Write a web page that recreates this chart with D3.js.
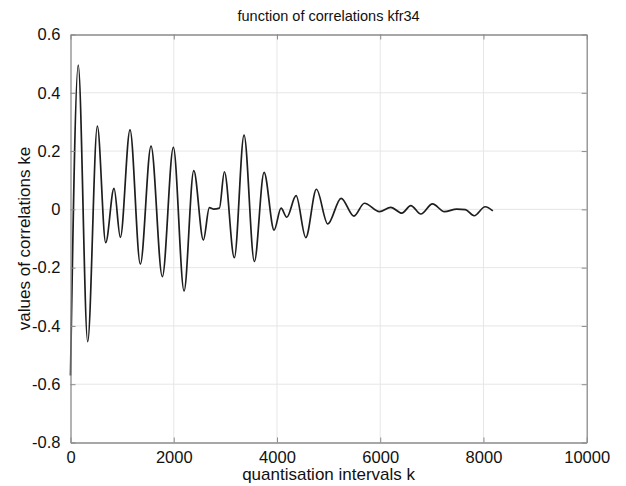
<!DOCTYPE html>
<meta charset="utf-8">
<script src="https://d3js.org/d3.v7.min.js"></script>
<style>
body { margin: 0; background: #fff; }
svg { font-family: Arial, "Liberation Sans", sans-serif; }
</style>
<div id="chart"></div>
<script>
// extrema (k, correlation)
const kValues = [0, 150, 333, 520, 682, 843, 966, 1153, 1353, 1560, 1779, 1993, 2200, 2388, 2574,
  2690, 2767, 2884, 2981, 3174, 3362, 3562, 3750, 3944, 4079, 4190, 4370, 4558, 4764, 4984,
  5242, 5490, 5694, 5985, 6205, 6419, 6593, 6787, 7012, 7244, 7484, 7650, 7820, 8033, 8182];
const keValues = [-0.57, 0.495, -0.454, 0.286, -0.114, 0.072, -0.096, 0.273, -0.188, 0.217, -0.231, 0.213, -0.280, 0.133, -0.105,
  0.006, 0.001, 0.004, 0.129, -0.166, 0.255, -0.179, 0.127, -0.071, 0.004, -0.027, 0.047, -0.097, 0.069, -0.050,
  0.038, -0.023, 0.021, -0.008, 0.007, -0.013, 0.013, -0.016, 0.019, -0.008, 0.001, -0.001, -0.022, 0.009, -0.005];
const xTicks = [0, 2000, 4000, 6000, 8000, 10000];
const yTicks = [-0.8, -0.6, -0.4, -0.2, 0, 0.2, 0.4, 0.6];

const width = 626, height = 486;
const margin = {top: 34.5, right: 39.3, bottom: 43.5, left: 70.5};
const pw = width - margin.left - margin.right,
      ph = height - margin.top - margin.bottom;

const svg = d3.select('#chart').append('svg')
  .attr('width', width).attr('height', height);

const x = d3.scaleLinear().domain([0, 10000]).range([0, pw]);
const y = d3.scaleLinear().domain([-0.8, 0.6]).range([ph, 0]);

const g = svg.append('g').attr('transform', `translate(${margin.left},${margin.top})`);

// grid
g.append('g').selectAll('line').data(xTicks.slice(1, -1)).join('line')
  .attr('x1', d => x(d)).attr('x2', d => x(d)).attr('y1', 0).attr('y2', ph)
  .attr('stroke', '#e6e6e6').attr('stroke-width', 1);
g.append('g').selectAll('line').data(yTicks.slice(1, -1)).join('line')
  .attr('y1', d => y(d)).attr('y2', d => y(d)).attr('x1', 0).attr('x2', pw)
  .attr('stroke', '#e6e6e6').attr('stroke-width', 1);

// curve
const pts = kValues.map((k, i) => [k, keValues[i]]);
g.append('path')
  .datum(pts)
  .attr('fill', 'none')
  .attr('stroke', '#1e1e1e')
  .attr('stroke-width', 1.7)
  .attr('stroke-linejoin', 'round')
  .attr('d', d3.line().x(d => x(d[0])).y(d => y(d[1])).curve(d3.curveMonotoneX));

// axes (inward ticks on all four sides, MATLAB box)
const yFmt = d => d === 0 ? '0' : d.toFixed(1);
const axisColor = '#8a8a8a';
const axB = g.append('g').attr('transform', `translate(0,${ph})`)
  .call(d3.axisBottom(x).tickValues(xTicks).tickSizeInner(-5).tickSizeOuter(0).tickPadding(9).tickFormat(d => String(d)));
const axT = g.append('g')
  .call(d3.axisTop(x).tickValues(xTicks).tickSizeInner(-5).tickSizeOuter(0).tickFormat(''));
const axL = g.append('g')
  .call(d3.axisLeft(y).tickValues(yTicks).tickSizeInner(-5).tickSizeOuter(0).tickPadding(10).tickFormat(yFmt));
const axR = g.append('g').attr('transform', `translate(${pw},0)`)
  .call(d3.axisRight(y).tickValues(yTicks).tickSizeInner(-5).tickSizeOuter(0).tickFormat(''));

[axB, axT, axL, axR].forEach(a => {
  a.select('.domain').attr('stroke', axisColor).attr('stroke-width', 1.3);
  a.selectAll('.tick line').attr('stroke', axisColor);
  a.selectAll('text').attr('fill', '#111').style('font-size', '16.5px')
    .style('font-family', 'Arial, "Liberation Sans", sans-serif');
});

// labels
svg.append('text')
  .attr('x', margin.left + pw / 2).attr('y', 21)
  .attr('text-anchor', 'middle').attr('fill', '#111')
  .style('font-size', '14.5px')
  .text('function of correlations kfr34');

svg.append('text')
  .attr('x', margin.left + pw / 2).attr('y', 480)
  .attr('text-anchor', 'middle').attr('fill', '#111')
  .style('font-size', '17px')
  .text('quantisation intervals k');

svg.append('text')
  .attr('transform', `translate(30,${margin.top + y(-0.1)}) rotate(-90)`)
  .attr('text-anchor', 'middle').attr('fill', '#111')
  .style('font-size', '17px')
  .text('values of correlations ke');
</script>
